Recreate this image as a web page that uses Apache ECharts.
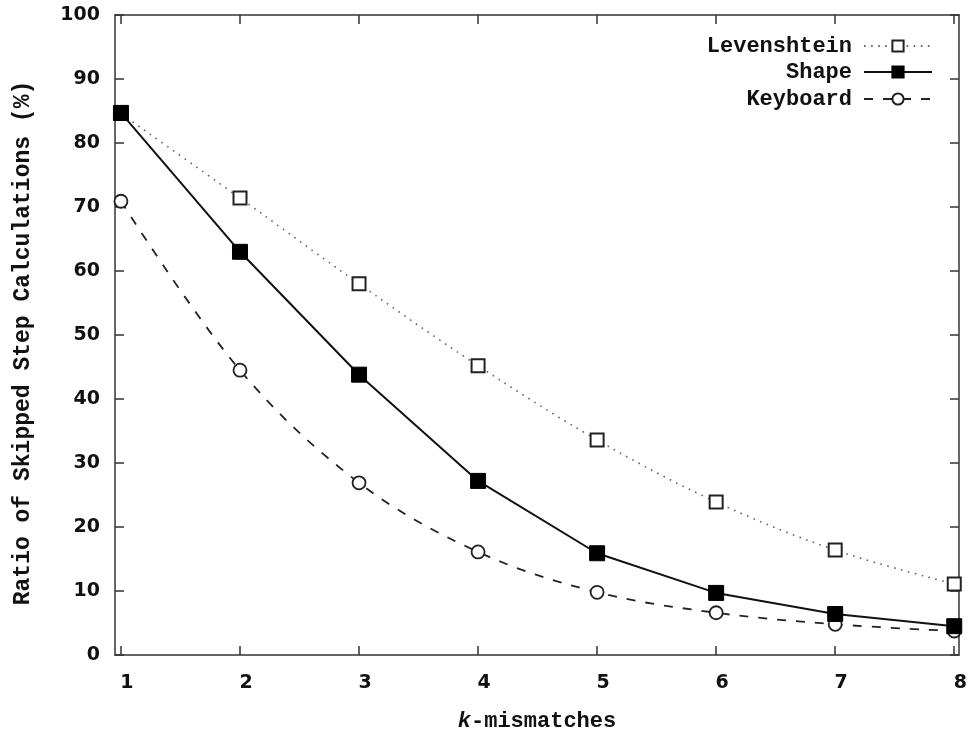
<!DOCTYPE html>
<html><head><meta charset="utf-8">
<script src="https://cdn.jsdelivr.net/npm/echarts@6/dist/echarts.min.js"></script>
<style>html,body{margin:0;padding:0;background:#fff}#c{width:973px;height:734px}</style>
</head><body><div id="c"></div>
<script>
const categories = [1, 2, 3, 4, 5, 6, 7, 8];
const levenshtein = [84.6, 71.4, 58.0, 45.2, 33.6, 23.9, 16.4, 11.1];
const shape = [84.7, 63.0, 43.8, 27.2, 15.9, 9.7, 6.4, 4.5];
const keyboard = [70.9, 44.5, 26.9, 16.1, 9.8, 6.6, 4.8, 3.75];
const yTicks = [0, 10, 20, 30, 40, 50, 60, 70, 80, 90, 100];

const pair = arr => categories.map((k, i) => [k, arr[i]]);
const axisCol = '#333';
const tickFont = {fontFamily: 'DejaVu Sans', fontWeight: 'bold', fontSize: 19, color: '#111'};
const mono = 'Liberation Mono';

const chart = echarts.init(document.getElementById('c'));
const legendBase = {
  orient: 'vertical', right: 35, itemWidth: 68, itemHeight: 14, align: 'right', itemGap: 4,
  textStyle: {fontFamily: mono, fontWeight: 'bold', fontSize: 22, color: '#111', padding: [0, 7, 0, 0]},
  selectedMode: false
};
chart.setOption({
  animation: false,
  backgroundColor: '#fff',
  grid: {left: 115, right: 14, top: 15, bottom: 79, outerBoundsMode: 'none', containLabel: false},
  legend: [
    Object.assign({}, legendBase, {top: 30, data: ['Levenshtein']}),
    Object.assign({}, legendBase, {top: 56, data: ['Shape']}),
    Object.assign({}, legendBase, {top: 83, data: ['Keyboard']})
  ],
  xAxis: [{
    type: 'value', min: 0.95, max: 8.04, position: 'bottom',
    axisLine: {show: true, onZero: false, lineStyle: {color: axisCol, width: 1.5}},
    axisTick: {show: true, inside: true, length: 9, lineStyle: {color: axisCol, width: 1.5},
      customValues: categories},
    axisLabel: Object.assign({margin: 19, customValues: categories, padding: [0, 0, 0, 12]}, tickFont),
    splitLine: {show: false},
    name: '{i|k}-mismatches', nameLocation: 'middle', nameGap: 55,
    nameTextStyle: {fontFamily: mono, fontWeight: 'bold', fontSize: 22, color: '#111',
      rich: {i: {fontFamily: mono, fontWeight: 'bold', fontStyle: 'italic', fontSize: 22, color: '#111'}}}
  }, {
    type: 'value', min: 0.95, max: 8.04, position: 'top',
    axisLine: {show: true, onZero: false, lineStyle: {color: axisCol, width: 1.5}},
    axisTick: {show: true, inside: true, length: 9, lineStyle: {color: axisCol, width: 1.5}, customValues: categories},
    axisLabel: {show: false}, splitLine: {show: false}
  }],
  yAxis: [{
    type: 'value', min: 0, max: 100, interval: 10, position: 'left',
    axisLine: {show: true, onZero: false, lineStyle: {color: axisCol, width: 1.5}},
    axisTick: {show: true, inside: true, length: 9, lineStyle: {color: axisCol, width: 1.5}},
    axisLabel: Object.assign({margin: 15, formatter: v => yTicks.includes(v) ? String(v) : ''}, tickFont),
    splitLine: {show: false},
    name: 'Ratio of Skipped Step Calculations (%)', nameLocation: 'middle', nameGap: 80,
    nameTextStyle: {fontFamily: mono, fontWeight: 'bold', fontSize: 23, color: '#111', padding: [0, 16, 0, 0]}
  }, {
    type: 'value', min: 0, max: 100, interval: 10, position: 'right',
    axisLine: {show: true, onZero: false, lineStyle: {color: axisCol, width: 1.5}},
    axisTick: {show: true, inside: true, length: 9, lineStyle: {color: axisCol, width: 1.5}},
    axisLabel: {show: false}, splitLine: {show: false}
  }],
  series: [{
    name: 'Levenshtein', type: 'line', data: pair(levenshtein), smooth: 0.35,
    symbol: 'rect', symbolSize: 13,
    lineStyle: {color: '#666', width: 1.6, type: [1.6, 5.5]},
    itemStyle: {color: '#fff', borderColor: '#222', borderWidth: 2},
    z: 2
  }, {
    name: 'Shape', type: 'line', data: pair(shape), smooth: false,
    symbol: 'rect', symbolSize: 15,
    lineStyle: {color: '#111', width: 2},
    itemStyle: {color: '#000', borderColor: '#000', borderWidth: 1},
    z: 4
  }, {
    name: 'Keyboard', type: 'line', data: pair(keyboard), smooth: 0.35,
    symbol: 'circle', symbolSize: 13,
    lineStyle: {color: '#222', width: 1.8, type: [9, 10]},
    itemStyle: {color: '#fff', borderColor: '#222', borderWidth: 1.8},
    z: 3
  }]
});
</script></body></html>
